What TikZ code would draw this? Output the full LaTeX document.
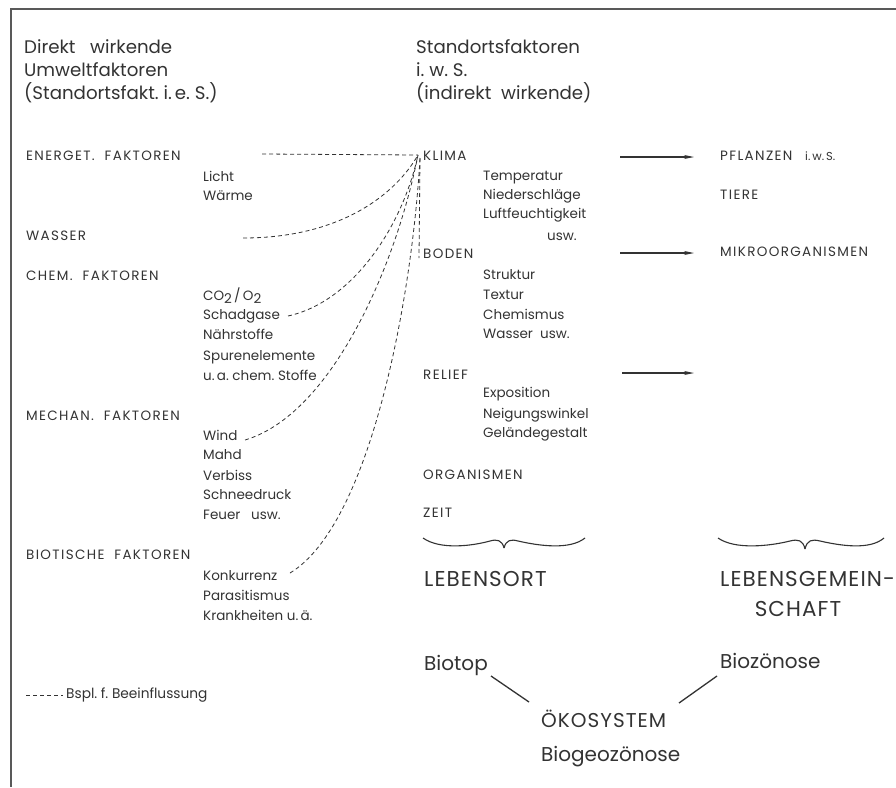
\documentclass[tikz,border=0pt]{standalone}
\usepackage{fontspec}
\setmainfont{Poppins}
\newfontfamily\spacedfont[LetterSpace=10]{Poppins}
\newfontfamily\widefont[LetterSpace=5]{Poppins}
\usetikzlibrary{arrows.meta}
\definecolor{ink}{HTML}{333333}
\begin{document}
\begin{tikzpicture}[x=1pt,y=-1pt,
  every node/.style={inner sep=0pt, anchor=west, text=ink, text height=0.7em, text depth=0pt},
  ttl/.style={font=\fontsize{18.2}{20}\selectfont},
  caplbl/.style={font=\spacedfont\fontsize{13.5}{14}\selectfont},
  sublbl/.style={font=\fontsize{13.5}{14}\selectfont},
  biglbl/.style={font=\widefont\fontsize{21.5}{24}\selectfont},
  midlbl/.style={font=\fontsize{20}{22}\selectfont},
  infl/.style={draw=ink, line width=0.8pt, dash pattern=on 4pt off 3pt},
  arr/.style={draw=ink, line width=1.1pt, -{Stealth[length=10pt,width=4pt]}},
  solidln/.style={draw=ink, line width=1.3pt},
  bracestyle/.style={draw=ink, line width=1.1pt},
  framel/.style={draw=black!65, line width=2pt},
]
\useasboundingbox (0,0) rectangle (896,787);
\fill[white] (0,0) rectangle (896,787);
\draw[framel] (896,9) -- (11,9) -- (11,787);

% titles
\node[ttl] (t1) at (24,50) {Direkt\ \ \ wirkende};
\node[ttl] (t2) at (24,73) {Umweltfaktoren};
\node[ttl] (t3) at (24,96) {(Standortsfakt.\ i.\,e.\ S.)};
\node[ttl] (t4) at (416,50) {Standortsfaktoren};
\node[ttl] (t5) at (416,73) {i.\ w.\ S.};
\node[ttl] (t6) at (416,96) {(indirekt\ \ wirkende)};

% left column
\node[caplbl] (energ) at (26,157) {ENERGET.\ \ FAKTOREN};
\node[sublbl] (licht) at (203,178) {Licht};
\node[sublbl] (waerme) at (203,197) {Wärme};
\node[caplbl] (wasser) at (26,237) {WASSER};
\node[caplbl] (chem) at (26,277) {CHEM.\ \ FAKTOREN};
\node[sublbl] (co) at (203,297) {CO\raisebox{-0.35ex}{2}\,/\,O\raisebox{-0.35ex}{2}};
\node[sublbl] (schad) at (203,316) {Schadgase};
\node[sublbl] (naehr) at (203,336) {Nährstoffe};
\node[sublbl] (spur) at (203,357) {Spurenelemente};
\node[sublbl] (uachem) at (203,377) {u.\,a.\ chem.\ Stoffe};
\node[caplbl] (mech) at (26,417) {MECHAN.\ \ FAKTOREN};
\node[sublbl] (wind) at (203,437) {Wind};
\node[sublbl] (mahd) at (203,456) {Mahd};
\node[sublbl] (verb) at (203,477) {Verbiss};
\node[sublbl] (schnee) at (203,496) {Schneedruck};
\node[sublbl] (feuer) at (203,516) {Feuer\ \ \ usw.};
\node[caplbl] (biot) at (26,556) {BIOTISCHE\ \ FAKTOREN};
\node[sublbl] (konk) at (203,577) {Konkurrenz};
\node[sublbl] (para) at (203,597) {Parasitismus};
\node[sublbl] (krank) at (203,617) {Krankheiten u.\,ä.};

% middle column
\node[caplbl] (klima) at (423,157) {KLIMA};
\node[sublbl] (temp) at (483,177) {Temperatur};
\node[sublbl] (nied) at (483,196) {Niederschläge};
\node[sublbl] (luft) at (483,215) {Luftfeuchtigkeit};
\node[sublbl, anchor=east] (usw1) at (577,237) {usw.};
\node[caplbl] (boden) at (423,255) {BODEN};
\node[sublbl] (strukt) at (483,276) {Struktur};
\node[sublbl] (textur) at (483,296) {Textur};
\node[sublbl] (chemis) at (483,316) {Chemismus};
\node[sublbl] (wass2) at (483,335) {Wasser\ \ usw.};
\node[caplbl] (relief) at (423,376) {RELIEF};
\node[sublbl] (expo) at (483,394) {Exposition};
\node[sublbl] (neig) at (483,415) {Neigungswinkel};
\node[sublbl] (gel) at (483,434) {Geländegestalt};
\node[caplbl] (orga) at (423,476) {ORGANISMEN};
\node[caplbl] (zeit) at (423,514) {ZEIT};

% right column
\node[caplbl] (pfl) at (720,157) {PFLANZEN};
\node[font=\fontsize{11.5}{12}\selectfont] (iws) at (805,157) {i.\,w.\,S.};
\node[caplbl] (tiere) at (720,196) {TIERE};
\node[caplbl] (mikro) at (720,253) {MIKROORGANISMEN};

% arrows
\coordinate (a1s) at (620,157); \coordinate (a1e) at (694,157);
\coordinate (a2s) at (620,253); \coordinate (a2e) at (694,253);
\coordinate (a3s) at (622,373); \coordinate (a3e) at (694,373);
\draw[arr] (a1s) -- (a1e);
\draw[arr] (a2s) -- (a2e);
\draw[arr] (a3s) -- (a3e);

% dashed influences
\coordinate (K) at (418,155);
\coordinate (Kb) at (420,158);
\coordinate (eE) at (262,154);
\coordinate (wE) at (243,238);
\coordinate (sE) at (288,316);
\coordinate (windE) at (245,440);
\coordinate (konkE) at (290,573);
\coordinate (bodE) at (419,258);
\draw[infl] (eE) -- (K);
\draw[infl] (wE) .. controls (340,238) and (395,195) .. (K);
\draw[infl] (sE) .. controls (352,302) and (402,228) .. (K);
\draw[infl] (windE) .. controls (330,415) and (395,270) .. (K);
\draw[infl] (konkE) .. controls (370,525) and (412,300) .. (Kb);
\draw[infl] (Kb) -- (bodE);

% braces
\draw[bracestyle] (423,538) .. controls (440,550) and (472,546) .. (490,541) .. controls (497,539) and (502,540) .. (504,548);
\draw[bracestyle] (504,548) .. controls (506,540) and (511,539) .. (518,541) .. controls (540,546) and (570,550) .. (585,538);
\draw[bracestyle] (718,538) .. controls (735,550) and (770,546) .. (790,541) .. controls (798,539) and (803,540) .. (805,549);
\draw[bracestyle] (805,549) .. controls (807,540) and (812,539) .. (820,541) .. controls (842,546) and (870,550) .. (884,538);

% bottom
\node[biglbl] (lebensort) at (424,583) {LEBENSORT};
\node[biglbl] (lebensg) at (720,583) {LEBENSGEMEIN-};
\node[biglbl, anchor=center] (schaft) at (798,613) {SCHAFT};
\node[midlbl] (biotop) at (424,667) {Biotop};
\node[midlbl] (bioz) at (720,665) {Biozönose};
\node[midlbl, font=\widefont\fontsize{20}{22}\selectfont] (oeko) at (541,724) {ÖKOSYSTEM};
\node[midlbl] (biogeo) at (541,758) {Biogeozönose};
\coordinate (l1s) at (491,676); \coordinate (l1e) at (529,702);
\coordinate (l2s) at (717,676); \coordinate (l2e) at (679,703);
\draw[solidln] (l1s) -- (l1e);
\draw[solidln] (l2s) -- (l2e);

% legend
\coordinate (lg1) at (26,695); \coordinate (lg2) at (63,695);
\draw[infl] (lg1) -- (lg2);
\node[font=\fontsize{14}{16}\selectfont] (legend) at (66,695) {\scalebox{0.98}[1]{Bspl.\ f.\ Beeinflussung}};
\end{tikzpicture}
\end{document}
